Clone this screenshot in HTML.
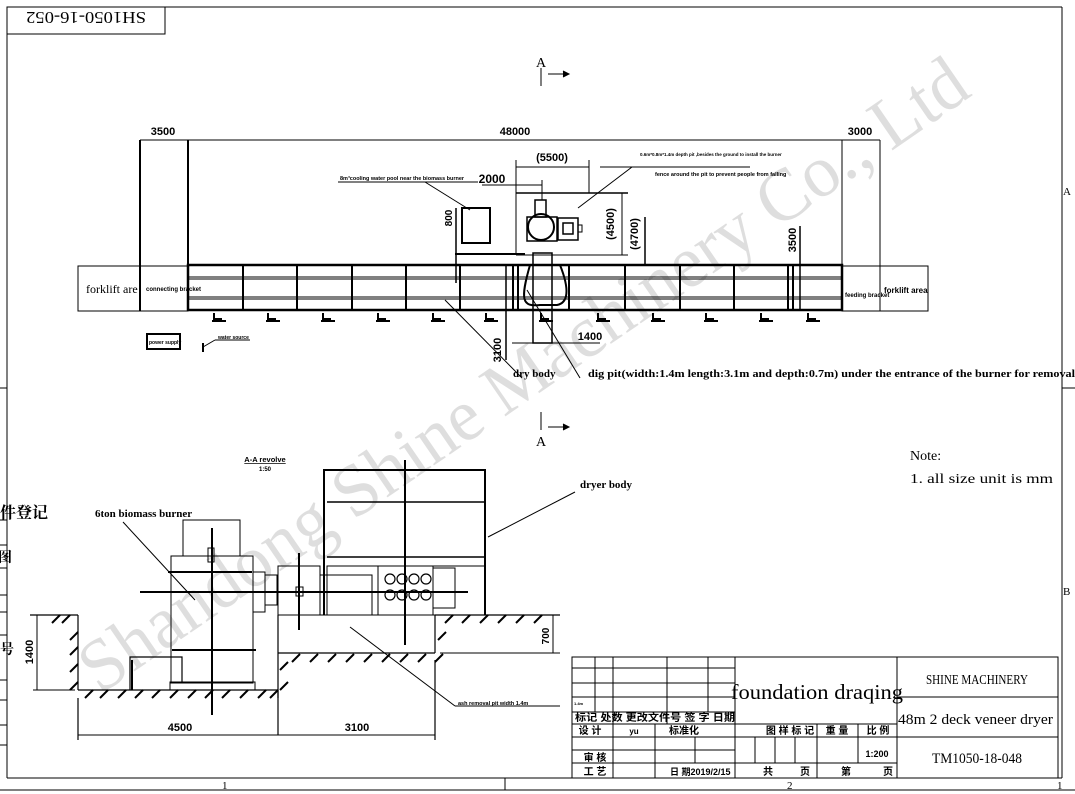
<!DOCTYPE html>
<html><head><meta charset="utf-8"><style>
html,body{margin:0;padding:0;background:#fff;}
svg{display:block;}
text{font-family:"Liberation Sans Narrow","Liberation Sans","Noto Sans CJK SC",sans-serif;fill:#000;}
.s{font-family:"Liberation Serif","Noto Serif CJK SC",serif;}
.b{font-weight:bold;}
</style></head><body>
<svg width="1075" height="794" viewBox="0 0 1075 794" xmlns="http://www.w3.org/2000/svg">
<g stroke="#000" fill="none">
<!-- frame -->
<line x1="7" y1="7" x2="1062" y2="7" stroke-width="1"/>
<line x1="7" y1="7" x2="7" y2="778"/>
<line x1="1062" y1="7" x2="1062" y2="778"/>
<line x1="7" y1="778" x2="1062" y2="778"/>
<line x1="0" y1="790" x2="1075" y2="790"/>
<line x1="0" y1="388" x2="7" y2="388"/><line x1="1062" y1="388" x2="1075" y2="388"/>
<line x1="505" y1="778" x2="505" y2="790"/>
<rect x="7" y="7" width="158" height="27"/>
<!-- left strip boxes -->
<line x1="0" y1="520" x2="7" y2="520"/><line x1="0" y1="545" x2="7" y2="545"/><line x1="0" y1="568" x2="7" y2="568"/>
<line x1="0" y1="595" x2="7" y2="595"/><line x1="0" y1="612" x2="7" y2="612"/><line x1="0" y1="635" x2="7" y2="635"/>
<line x1="0" y1="680" x2="7" y2="680"/><line x1="0" y1="700" x2="7" y2="700"/><line x1="0" y1="725" x2="7" y2="725"/><line x1="0" y1="745" x2="7" y2="745"/>

<!-- A markers -->
<line x1="541" y1="68" x2="541" y2="86"/><line x1="548" y1="74" x2="568" y2="74"/><path d="M563,71 L569,74 L563,77" fill="#000"/>
<line x1="541" y1="412" x2="541" y2="430"/><line x1="548" y1="427" x2="568" y2="427"/><path d="M563,424 L569,427 L563,430" fill="#000"/>

<!-- PLAN VIEW -->
<line x1="140" y1="140" x2="140" y2="311" stroke-width="2"/>
<line x1="188" y1="140" x2="188" y2="266" stroke-width="2"/>
<line x1="140" y1="140" x2="188" y2="140"/>
<line x1="188" y1="140" x2="842" y2="140"/>
<line x1="842" y1="140" x2="842" y2="266"/>
<line x1="880" y1="140" x2="880" y2="311"/>
<line x1="842" y1="140" x2="880" y2="140"/>
<rect x="78" y="266" width="110" height="45"/>
<rect x="842" y="266" width="86" height="45"/>
<rect x="188" y="265" width="654" height="45" stroke-width="2.5"/>
<line x1="188" y1="277" x2="842" y2="277"/><line x1="188" y1="279" x2="842" y2="279"/>
<line x1="188" y1="297" x2="842" y2="297"/><line x1="188" y1="299" x2="842" y2="299"/>
<g stroke-width="2">
<line x1="243" y1="265" x2="243" y2="310"/><line x1="297" y1="265" x2="297" y2="310"/><line x1="352" y1="265" x2="352" y2="310"/>
<line x1="406" y1="265" x2="406" y2="310"/><line x1="460" y1="265" x2="460" y2="310"/><line x1="513" y1="265" x2="513" y2="310"/>
<line x1="518" y1="265" x2="518" y2="310"/><line x1="569" y1="265" x2="569" y2="310"/><line x1="625" y1="265" x2="625" y2="310"/>
<line x1="680" y1="265" x2="680" y2="310"/><line x1="734" y1="265" x2="734" y2="310"/><line x1="788" y1="265" x2="788" y2="310"/>
<line x1="793" y1="265" x2="793" y2="310"/>
</g>
<!-- feet -->
<g stroke-width="2">
<path d="M214,313 v6 h8 M212,321 h14"/><path d="M268,313 v6 h8 M266,321 h14"/><path d="M323,313 v6 h8 M321,321 h14"/>
<path d="M378,313 v6 h8 M376,321 h14"/><path d="M433,313 v6 h8 M431,321 h14"/><path d="M486,313 v6 h8 M484,321 h14"/>
<path d="M541,313 v6 h8 M539,321 h14"/><path d="M598,313 v6 h8 M596,321 h14"/><path d="M653,313 v6 h8 M651,321 h14"/>
<path d="M706,313 v6 h8 M704,321 h14"/><path d="M761,313 v6 h8 M759,321 h14"/><path d="M808,313 v6 h8 M806,321 h14"/>
</g>
<!-- burner plan -->
<line x1="516" y1="167" x2="589" y2="167"/><line x1="516" y1="160" x2="516" y2="255"/><line x1="589" y1="160" x2="589" y2="193"/>
<line x1="516" y1="185" x2="542" y2="185"/><line x1="542" y1="180" x2="542" y2="200"/>
<line x1="482" y1="185" x2="516" y2="185"/>
<line x1="516" y1="193" x2="628" y2="193" stroke-width="1.5"/>
<line x1="516" y1="255" x2="628" y2="255"/>
<line x1="622" y1="193" x2="622" y2="255"/>
<line x1="645" y1="217" x2="645" y2="265" stroke-width="1.5"/>
<rect x="535" y="200" width="11" height="17" stroke-width="1.5"/>
<rect x="527" y="217" width="30" height="24" stroke-width="1.5"/>
<circle cx="541" cy="227" r="13" stroke-width="2"/>
<rect x="558" y="218" width="20" height="22" stroke-width="1.5"/>
<rect x="563" y="223" width="10" height="11" stroke-width="1.5"/>
<rect x="578" y="225" width="4" height="7"/>
<rect x="533" y="253" width="19" height="90" stroke-width="1.5"/>
<path d="M530,265 C520,300 522,307 540,305 L557,305 C568,303 570,290 560,265" stroke-width="2"/>
<line x1="455" y1="254" x2="525" y2="254" stroke-width="2"/>
<rect x="462" y="208" width="28" height="35" stroke-width="2"/>
<line x1="456" y1="208" x2="456" y2="283" stroke-width="1.5"/>
<line x1="506" y1="265" x2="506" y2="360" stroke-width="1.5"/>
<line x1="800" y1="226" x2="800" y2="310" stroke-width="1.5"/>
<line x1="512" y1="343" x2="600" y2="343"/>
<line x1="338" y1="182" x2="478" y2="182"/><line x1="425" y1="182" x2="470" y2="210"/>
<line x1="600" y1="167" x2="750" y2="167"/><line x1="632" y1="167" x2="578" y2="208"/>
<line x1="445" y1="300" x2="522" y2="378"/><line x1="527" y1="290" x2="580" y2="378"/>
<rect x="147" y="334" width="33" height="15" stroke-width="2"/>
<line x1="203" y1="343" x2="203" y2="352" stroke-width="2"/><line x1="203" y1="347" x2="215" y2="340"/><line x1="215" y1="340" x2="250" y2="340"/>

<!-- SECTION VIEW -->
<g stroke-width="1.2">
<line x1="30" y1="615" x2="78" y2="615"/>
<line x1="78" y1="615" x2="78" y2="690"/>
<line x1="78" y1="690" x2="278" y2="690"/>
<line x1="278" y1="615" x2="278" y2="698"/>
<line x1="278" y1="653" x2="435" y2="653"/>
<line x1="435" y1="615" x2="435" y2="653"/>
<line x1="435" y1="615" x2="560" y2="615"/>
<line x1="278" y1="735" x2="278" y2="690"/>
<line x1="78" y1="698" x2="78" y2="740"/>
<line x1="435" y1="660" x2="435" y2="740"/>
</g>
<g stroke-width="2">
<path d="M52,623 l8,-8 M62,623 l8,-8 M70,640 l8,-8 M70,655 l8,-8 M70,672 l8,-8 M70,690 l8,-8"/>
<path d="M85,698 l8,-8 M100,698 l8,-8 M118,698 l8,-8 M135,698 l8,-8 M152,698 l8,-8 M170,698 l8,-8 M188,698 l8,-8 M205,698 l8,-8 M222,698 l8,-8 M240,698 l8,-8 M258,698 l8,-8 M270,698 l8,-8"/>
<path d="M280,670 l8,-8 M280,690 l8,-8 M292,662 l8,-8 M310,662 l8,-8 M328,662 l8,-8 M346,662 l8,-8 M364,662 l8,-8 M382,662 l8,-8 M400,662 l8,-8 M418,662 l8,-8 M435,662 l8,-8"/>
<path d="M438,640 l8,-8 M445,623 l8,-8 M462,623 l8,-8 M480,623 l8,-8 M498,623 l8,-8 M516,623 l8,-8 M534,623 l8,-8"/>
</g>
<!-- burner -->
<rect x="171" y="556" width="82" height="127"/>
<rect x="183" y="520" width="57" height="36"/>
<rect x="170" y="682" width="85" height="8"/>
<path d="M130,690 V657 H182 V682" stroke-width="1.2"/><line x1="132" y1="660" x2="132" y2="690" stroke-width="2"/>
<line x1="168" y1="572" x2="252" y2="572" stroke-width="2"/>
<line x1="172" y1="650" x2="256" y2="650" stroke-width="2"/>
<rect x="253" y="572" width="12" height="40"/><rect x="265" y="575" width="12" height="30"/>
<rect x="208" y="548" width="6" height="14"/>
<line x1="140" y1="592" x2="468" y2="592" stroke-width="2"/>
<line x1="212" y1="528" x2="212" y2="715" stroke-width="2"/>
<line x1="299" y1="553" x2="299" y2="630" stroke-width="2"/>
<rect x="296" y="587" width="7" height="9"/>
<rect x="278" y="566" width="42" height="49"/>
<!-- dryer -->
<path d="M324,615 V470 H485 V615" stroke-width="2"/>
<line x1="327" y1="502" x2="485" y2="502" stroke-width="1.5"/>
<line x1="327" y1="557" x2="485" y2="557" stroke-width="1.5"/>
<rect x="327" y="566" width="158" height="49"/>
<rect x="320" y="575" width="52" height="40"/>
<rect x="378" y="566" width="55" height="49"/>
<rect x="433" y="568" width="22" height="40"/>
<g stroke-width="1.2">
<circle cx="390" cy="579" r="5"/><circle cx="402" cy="579" r="5"/><circle cx="414" cy="579" r="5"/><circle cx="426" cy="579" r="5"/>
<circle cx="390" cy="595" r="5"/><circle cx="402" cy="595" r="5"/><circle cx="414" cy="595" r="5"/><circle cx="426" cy="595" r="5"/>
</g>
<line x1="405" y1="460" x2="405" y2="645" stroke-width="2"/>
<!-- dims -->
<line x1="78" y1="735" x2="435" y2="735"/>
<line x1="37" y1="615" x2="37" y2="690"/><line x1="33" y1="615" x2="75" y2="615"/><line x1="33" y1="690" x2="75" y2="690"/>
<line x1="553" y1="615" x2="553" y2="653"/><line x1="440" y1="653" x2="560" y2="653"/>
<!-- leaders -->
<line x1="123" y1="522" x2="195" y2="600"/>
<line x1="575" y1="492" x2="488" y2="537"/>
<line x1="455" y1="706" x2="350" y2="627"/><line x1="455" y1="706" x2="560" y2="706"/>

<!-- title block -->
<rect x="572" y="657" width="486" height="121"/>
<line x1="735" y1="657" x2="735" y2="778"/>
<line x1="897" y1="657" x2="897" y2="778"/>
<line x1="897" y1="697" x2="1058" y2="697"/><line x1="897" y1="737" x2="1058" y2="737"/>
<line x1="572" y1="668" x2="735" y2="668"/><line x1="572" y1="683" x2="735" y2="683"/><line x1="572" y1="697" x2="735" y2="697"/>
<line x1="572" y1="712" x2="735" y2="712"/><line x1="572" y1="724" x2="897" y2="724"/><line x1="572" y1="737" x2="897" y2="737"/>
<line x1="572" y1="750" x2="735" y2="750"/><line x1="735" y1="763" x2="897" y2="763"/><line x1="572" y1="763" x2="735" y2="763"/>
<line x1="595" y1="657" x2="595" y2="712"/><line x1="613" y1="657" x2="613" y2="778"/><line x1="667" y1="657" x2="667" y2="724"/>
<line x1="708" y1="657" x2="708" y2="712"/><line x1="655" y1="724" x2="655" y2="778"/><line x1="695" y1="737" x2="695" y2="763"/>
<line x1="755" y1="737" x2="755" y2="763"/><line x1="775" y1="737" x2="775" y2="763"/><line x1="795" y1="737" x2="795" y2="763"/>
<line x1="817" y1="724" x2="817" y2="778"/><line x1="858" y1="724" x2="858" y2="763"/>
</g>

<!-- TEXT -->
<text x="86" y="28" class="s" font-size="17" transform="rotate(180 86 20)" text-anchor="middle" textLength="120" lengthAdjust="spacingAndGlyphs">SH1050-16-052</text>
<text x="541" y="67" class="s" font-size="14" text-anchor="middle">A</text>
<text x="541" y="446" class="s" font-size="14" text-anchor="middle">A</text>
<g class="b">
<text x="163" y="135" font-size="11" text-anchor="middle">3500</text>
<text x="515" y="135" font-size="11" text-anchor="middle">48000</text>
<text x="860" y="135" font-size="11" text-anchor="middle">3000</text>
<text x="552" y="161" font-size="11" text-anchor="middle">(5500)</text>
<text x="492" y="183" font-size="12" text-anchor="middle">2000</text>
<text x="340" y="180" font-size="5.5">8m³cooling water pool near the biomass burner</text>
<text x="640" y="156" font-size="4.5">0.6m*0.8m*1.4m depth pit ,besides the ground to install the burner</text>
<text x="655" y="176" font-size="5.5">fence around the pit to prevent people from falling</text>
<text x="452" y="218" font-size="10" transform="rotate(-90 452 218)" text-anchor="middle">800</text>
<text x="614" y="224" font-size="11" transform="rotate(-90 614 224)" text-anchor="middle">(4500)</text>
<text x="638" y="234" font-size="11" transform="rotate(-90 638 234)" text-anchor="middle">(4700)</text>
<text x="796" y="240" font-size="11" transform="rotate(-90 796 240)" text-anchor="middle">3500</text>
<text x="501" y="350" font-size="11" transform="rotate(-90 501 350)" text-anchor="middle">3100</text>
<text x="590" y="340" font-size="11" text-anchor="middle">1400</text>
<text x="86" y="293" class="s" font-size="12" font-weight="normal">forklift are</text>
<text x="146" y="291" font-size="6">connecting bracket</text>
<text x="845" y="297" font-size="6">feeding bracket</text>
<text x="884" y="293" font-size="8">forklift area</text>
<text x="149" y="344" font-size="5">power supply</text>
<text x="218" y="339" font-size="5">water source</text>
<text x="513" y="377" class="s" font-size="11">dry   body</text>
<text x="588" y="377" class="s" font-size="11" textLength="487" lengthAdjust="spacingAndGlyphs">dig pit(width:1.4m length:3.1m and depth:0.7m) under the entrance of the burner for removal</text>
<text x="265" y="462" font-size="7.5" text-anchor="middle" text-decoration="underline">A-A revolve</text>
<text x="265" y="471" font-size="6" text-anchor="middle">1:50</text>
<text x="95" y="517" class="s" font-size="11">6ton biomass burner</text>
<text x="580" y="488" class="s" font-size="11">dryer body</text>
<text x="458" y="705" font-size="5.5">ash removal pit width 1.4m</text>
<text x="180" y="731" font-size="11" text-anchor="middle">4500</text>
<text x="357" y="731" font-size="11" text-anchor="middle">3100</text>
<text x="33" y="652" font-size="11" transform="rotate(-90 33 652)" text-anchor="middle">1400</text>
<text x="549" y="636" font-size="10" transform="rotate(-90 549 636)" text-anchor="middle">700</text>
</g>
<text x="0" y="518" class="s b" font-size="16">件登记</text>
<text x="-2" y="562" class="s b" font-size="14">图</text>
<text x="0" y="654" class="s b" font-size="14">号</text>
<text x="910" y="460" class="s" font-size="14">Note:</text>
<text x="910" y="483" class="s" font-size="14" textLength="143" lengthAdjust="spacingAndGlyphs">1. all size unit is mm</text>
<text x="1063" y="195" class="s" font-size="11">A</text>
<text x="1063" y="595" class="s" font-size="11">B</text>
<text x="222" y="789" class="s" font-size="11">1</text>
<text x="787" y="789" class="s" font-size="11">2</text>
<text x="1057" y="789" class="s" font-size="11">1</text>

<!-- title block text -->
<text x="731" y="699" class="s" font-size="21" textLength="172" lengthAdjust="spacingAndGlyphs">foundation draqing</text>
<text x="977" y="684" class="s" font-size="14" text-anchor="middle" textLength="102" lengthAdjust="spacingAndGlyphs">SHINE MACHINERY</text>
<text x="898" y="724" class="s" font-size="15" textLength="155" lengthAdjust="spacingAndGlyphs">48m 2 deck veneer dryer</text>
<text x="977" y="763" class="s" font-size="15" text-anchor="middle" textLength="90" lengthAdjust="spacingAndGlyphs">TM1050-18-048</text>
<g class="b" font-size="10">
<text x="574" y="705" font-size="4">1.4m</text>
<text x="575" y="721" font-size="10" textLength="160" lengthAdjust="spacingAndGlyphs">标记 处数  更改文件号 签 字  日期</text>
<text x="590" y="734" text-anchor="middle">设 计</text>
<text x="634" y="734" text-anchor="middle" font-size="8">yu</text>
<text x="684" y="734" text-anchor="middle">标准化</text>
<text x="595" y="761" text-anchor="middle">审 核</text>
<text x="595" y="775" text-anchor="middle">工 艺</text>
<text x="670" y="775" font-size="9">日 期2019/2/15</text>
<text x="790" y="734" text-anchor="middle">图 样 标 记</text>
<text x="837" y="734" text-anchor="middle">重 量</text>
<text x="878" y="734" text-anchor="middle">比 例</text>
<text x="877" y="757" text-anchor="middle" font-size="9">1:200</text>
<text x="768" y="775" text-anchor="middle">共</text>
<text x="805" y="775" text-anchor="middle">页</text>
<text x="846" y="775" text-anchor="middle">第</text>
<text x="888" y="775" text-anchor="middle">页</text>
</g>

<!-- watermark -->
<text x="100" y="695" class="s" font-size="74" fill="#000" fill-opacity="0.13" style="fill:#000;fill-opacity:0.13" transform="rotate(-34.5 100 695)" textLength="1060" lengthAdjust="spacingAndGlyphs">Shandong Shine Machinery Co., Ltd</text>
</svg>
</body></html>
